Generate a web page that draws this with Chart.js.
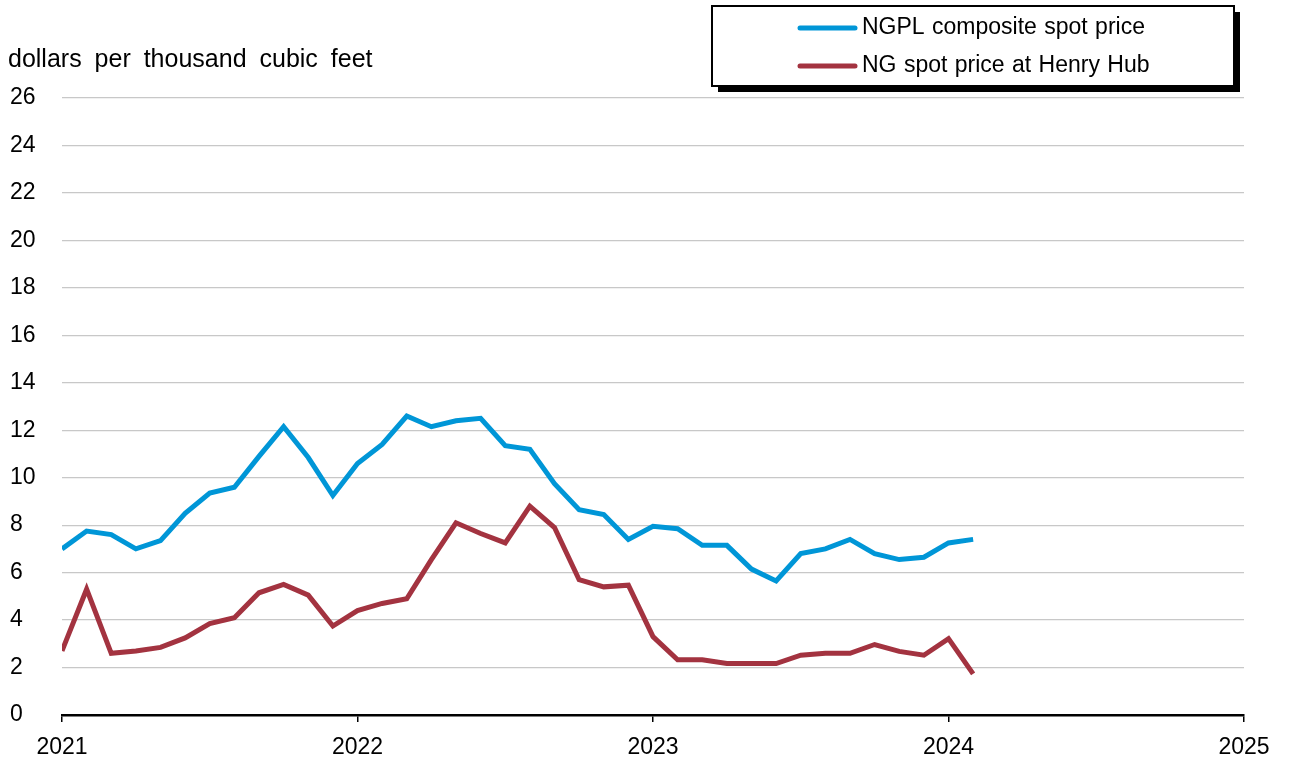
<!DOCTYPE html>
<html>
<head>
<meta charset="utf-8">
<script src="https://cdn.jsdelivr.net/npm/chart.js@4.4.1/dist/chart.umd.min.js"></script>
<style>
  html, body { margin: 0; padding: 0; background: #fff; }
  #wrap { position: relative; width: 1291px; height: 759px; }
</style>
</head>
<body>
<div id="wrap"><canvas id="lineChart" width="1291" height="759"></canvas></div>
<script>
// monthly values, Jan 2021 .. Feb 2024 (month index 0 = Jan 2021)
const months = [0,1,2,3,4,5,6,7,8,9,10,11,12,13,14,15,16,17,18,19,20,21,22,23,24,25,26,27,28,29,30,31,32,33,34,35,36,37];
const ngplComposite = [7.0,7.75,7.6,7.0,7.35,8.5,9.35,9.6,10.9,12.15,10.85,9.25,10.6,11.4,12.6,12.15,12.4,12.5,11.35,11.2,9.75,8.65,8.45,7.4,7.95,7.85,7.15,7.15,6.15,5.65,6.8,7.0,7.4,6.8,6.55,6.65,7.25,7.4];
const henryHub = [2.7,5.3,2.6,2.7,2.85,3.25,3.85,4.1,5.15,5.5,5.05,3.75,4.4,4.7,4.9,6.55,8.1,7.65,7.25,8.8,7.9,5.7,5.4,5.47,3.3,2.33,2.33,2.17,2.17,2.17,2.52,2.6,2.6,2.97,2.68,2.52,3.22,1.73];
const yearLabels = ['2021', '2022', '2023', '2024', '2025'];
const seriesNames = ['NGPL composite spot price', 'NG spot price at Henry Hub'];
const unitLabel = 'dollars per thousand cubic feet';

const FONT = '"Liberation Sans", Arial, sans-serif';

// legend box with drop shadow + unit label
const decorations = {
  id: 'decorations',
  afterDraw(chart) {
    const ctx = chart.ctx;
    ctx.save();
    // unit label
    ctx.fillStyle = '#000';
    ctx.font = '25px ' + FONT;
    ctx.textBaseline = 'middle';
    ctx.textAlign = 'left';
    ctx.wordSpacing = '6px';
    ctx.fillText(unitLabel, 8, 60);
    ctx.wordSpacing = '0px';

    // legend box
    const bx = 712, by = 6, bw = 522, bh = 80;
    ctx.fillStyle = '#000';
    ctx.fillRect(bx + 6, by + 6, bw, bh);
    ctx.fillStyle = '#fff';
    ctx.fillRect(bx, by, bw, bh);
    ctx.strokeStyle = '#000';
    ctx.lineWidth = 2;
    ctx.strokeRect(bx, by, bw, bh);

    ctx.font = '23px ' + FONT;
    ctx.wordSpacing = '1px';
    chart.data.datasets.forEach((ds, i) => {
      const y = 28 + i * 38;
      ctx.strokeStyle = ds.borderColor;
      ctx.lineWidth = 5;
      ctx.lineCap = 'round';
      ctx.beginPath();
      ctx.moveTo(800, y);
      ctx.lineTo(855, y);
      ctx.stroke();
      ctx.fillStyle = '#000';
      ctx.fillText(ds.label, 862, y);
    });
    ctx.restore();
  }
};

const ctx = document.getElementById('lineChart').getContext('2d');
new Chart(ctx, {
  type: 'line',
  data: {
    datasets: [
      {
        label: seriesNames[0],
        data: months.map((m, i) => ({ x: m, y: ngplComposite[i] })),
        borderColor: '#0096d7',
        borderWidth: 5,
        pointRadius: 0,
        tension: 0
      },
      {
        label: seriesNames[1],
        data: months.map((m, i) => ({ x: m, y: henryHub[i] })),
        borderColor: '#a33340',
        borderWidth: 5,
        pointRadius: 0,
        tension: 0
      }
    ]
  },
  options: {
    responsive: false,
    animation: false,
    layout: {
      padding: { top: 98, bottom: 0, left: 10, right: 47 }
    },
    plugins: {
      legend: { display: false },
      tooltip: { enabled: false }
    },
    scales: {
      x: {
        type: 'linear',
        min: 0,
        max: 48,
        ticks: {
          stepSize: 12,
          callback: (v) => yearLabels[v / 12],
          font: { size: 23, family: FONT },
          color: '#000',
          padding: 12,
          maxRotation: 0
        },
        grid: {
          drawOnChartArea: false,
          drawTicks: true,
          tickLength: 7,
          color: '#000',
          lineWidth: 1.5
        },
        border: { color: '#000', width: 2.5 },
        afterFit: (scale) => { scale.height = 44; }
      },
      y: {
        min: 0,
        max: 26,
        ticks: {
          stepSize: 2,
          crossAlign: 'far',
          font: { size: 23, family: FONT },
          color: '#000',
          padding: 0
        },
        grid: {
          color: '#c8c8c8',
          lineWidth: 1.2,
          drawTicks: false
        },
        border: { display: false },
        afterFit: (scale) => { scale.width = 52; }
      }
    }
  },
  plugins: [decorations]
});
</script>
</body>
</html>
